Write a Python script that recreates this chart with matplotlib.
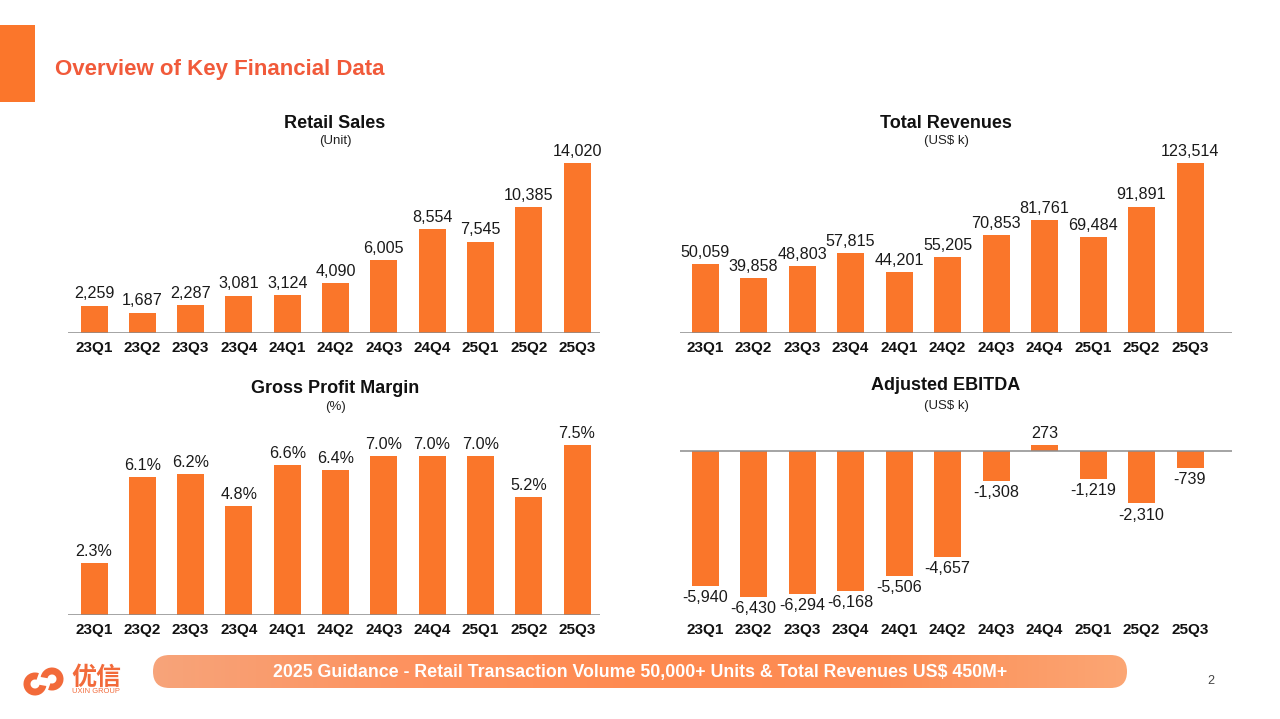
import numpy as np
import matplotlib
matplotlib.use('Agg')
import matplotlib.pyplot as plt
from matplotlib.patches import Rectangle, FancyBboxPatch, Wedge
from matplotlib.colors import LinearSegmentedColormap

plt.rcParams['font.family'] = ['Liberation Sans', 'DejaVu Sans']

# ---- data ----
quarters = ['23Q1', '23Q2', '23Q3', '23Q4', '24Q1', '24Q2',
            '24Q3', '24Q4', '25Q1', '25Q2', '25Q3']
retail_sales = [2259, 1687, 2287, 3081, 3124, 4090, 6005, 8554, 7545, 10385, 14020]
total_revenues = [50059, 39858, 48803, 57815, 44201, 55205, 70853, 81761,
                  69484, 91891, 123514]
gross_margin = [2.3, 6.1, 6.2, 4.8, 6.6, 6.4, 7.0, 7.0, 7.0, 5.2, 7.5]
adj_ebitda = [-5940, -6430, -6294, -6168, -5506, -4657, -1308, 273,
              -1219, -2310, -739]

BAR = '#FA762A'
TITLE_RED = '#F15A3A'
LOGO = '#F26A3A'
W, H = 1280, 719

fig = plt.figure(figsize=(W / 100, H / 100), dpi=100)
fig.patch.set_facecolor('white')


def fx(x):
    return x / W


def fy(y):
    return 1 - y / H


def panel(values, c0, c10, xa, xb, y_top, y_bot, y_zero, v_ref, y_ref, fmt):
    # axes in pixel coords, scale from one reference bar
    ax = fig.add_axes([fx(xa), fy(y_bot), fx(xb - xa), (y_bot - y_top) / H])
    step = (c10 - c0) / 10
    ax.set_xlim((xa - c0) / step, (xb - c0) / step)
    per_px = v_ref / (y_zero - y_ref)
    ax.set_ylim(-(y_bot - y_zero) * per_px, (y_zero - y_top) * per_px)
    x = np.arange(len(values))
    ax.bar(x, values, width=27 / step, color=BAR, zorder=2)
    ax.axhline(0, color='#8c8c8c', lw=1.1, zorder=3)
    for xi, v in zip(x, values):
        if v >= 0:
            ax.annotate(fmt(v), (xi, v), xytext=(0, 3), textcoords='offset points',
                        ha='center', va='bottom', fontsize=11.6, color='#1a1a1a')
        else:
            ax.annotate(fmt(v), (xi, v), xytext=(0, -3), textcoords='offset points',
                        ha='center', va='top', fontsize=11.6, color='#1a1a1a')
    ax.set_xticks(x)
    ax.set_xticklabels(quarters, fontsize=11, fontweight='bold', color='#111111')
    ax.tick_params(axis='x', length=0, pad=6)
    ax.set_yticks([])
    for s in ax.spines.values():
        s.set_visible(False)
    ax.patch.set_alpha(0)
    return ax


num = lambda v: f'{v:,.0f}'
pct = lambda v: f'{v:.1f}%'

panel(retail_sales, 94, 577, 68, 600, 145, 333, 333, 14020, 163, num)
panel(total_revenues, 705, 1190, 680, 1232, 145, 333, 333, 123514, 163, num)
panel(gross_margin, 94, 577, 68, 600, 425, 615, 615, 7.5, 445, pct)
panel(adj_ebitda, 705, 1190, 680, 1232, 425, 615, 451, -6430, 597, num)

# panel titles
titles = [('Retail Sales', '(Unit)', 335, 123, 141),
          ('Total Revenues', '(US$ k)', 946, 123, 141),
          ('Gross Profit Margin', '(%)', 335, 389, 407),
          ('Adjusted EBITDA', '(US$ k)', 946, 385, 406)]
for t, sub, xc, yt, ys in titles:
    fig.text(fx(xc), fy(yt), t, ha='center', va='center', fontsize=13,
             fontweight='bold', color='#111111')
    fig.text(fx(xc), fy(ys), sub, ha='center', va='center', fontsize=9.5,
             color='#222222')

# ---- decorations on a full-figure overlay ----
deco = fig.add_axes([0, 0, 1, 1])
deco.set_xlim(0, W)
deco.set_ylim(H, 0)
deco.axis('off')
deco.patch.set_alpha(0)

deco.add_patch(Rectangle((0, 25), 35, 77, color='#FB762B', lw=0))
deco.text(55, 70, 'Overview of Key Financial Data', fontsize=16,
          fontweight='bold', color=TITLE_RED, va='center', ha='left')

# guidance banner with gradient
pill = FancyBboxPatch((153 + 16.5, 655 + 16.5), 974 - 33, 0,
                      boxstyle='round,pad=16.5,rounding_size=16.5',
                      fc='none', ec='none')
deco.add_patch(pill)
grad = LinearSegmentedColormap.from_list(
    'g', ['#F7A47A', '#FD9360', '#FF8A50', '#FD8D55', '#FBA674'])
img = deco.imshow(np.linspace(0, 1, 256)[None, :], cmap=grad, aspect='auto',
                  extent=(153, 1127, 688, 655), zorder=1)
img.set_clip_path(pill)
deco.text(640, 672, '2025 Guidance - Retail Transaction Volume 50,000+ Units & '
          'Total Revenues US$ 450M+', fontsize=12.8, fontweight='bold',
          color='white', ha='center', va='center', zorder=2)

deco.text(1211, 681, '2', fontsize=9, color='#444444', ha='center', va='center')

# logo: two interlocking hooks + wordmark
deco.add_patch(Wedge((35, 684), 11.5, 10, 290, width=7, color=LOGO, lw=0))
deco.add_patch(Wedge((52, 679), 11.5, 190, 470, width=7, color=LOGO, lw=0))
deco.text(71, 678, '优信', fontsize=18, fontweight='bold', color=LOGO,
          family=['Noto Sans CJK SC', 'DejaVu Sans'], ha='left', va='center')
deco.text(72, 691.5, 'UXIN GROUP', fontsize=5.4, color=LOGO, ha='left',
          va='center')

fig.savefig('out.png', dpi=100)
